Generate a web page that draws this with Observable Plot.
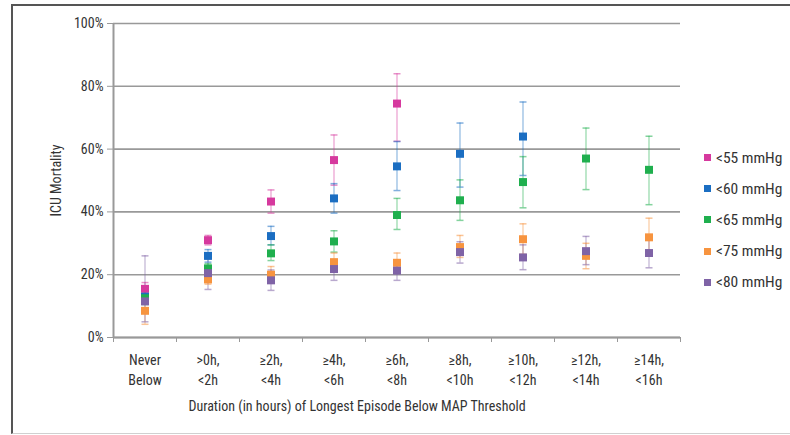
<!DOCTYPE html>
<html>
<head>
<meta charset="utf-8">
<script src="https://cdn.jsdelivr.net/npm/d3@7"></script>
<script src="https://cdn.jsdelivr.net/npm/@observablehq/plot@0.6"></script>
<style>
  html, body { margin: 0; padding: 0; background: #fff; }
  #wrap { position: relative; width: 790px; height: 435px; overflow: hidden; }
  #frame { position: absolute; left: 11px; top: 4px; width: 800px; height: 427px;
           border-top: 2px solid #555; border-left: 2px solid #555; border-bottom: 1px solid #d0d0d0; }
  #chart { position: absolute; left: 0; top: 0; }
  #legend { position: absolute; left: 704px; top: 142px; font-family: "Liberation Sans Narrow", "Roboto Condensed", "Liberation Sans", sans-serif;
            font-size: 15.5px; color: #333; }
  #legend .row { height: 31.2px; display: flex; align-items: center; white-space: nowrap; }
  #legend .sw { width: 7px; height: 7px; margin-right: 5px; }
</style>
</head>
<body>
<div id="wrap">
  <div id="frame"></div>
  <div id="chart"></div>
  <div id="legend"></div>
</div>
<script>
const categories = ["Never\nBelow", ">0h,\n<2h", "≥2h,\n<4h", "≥4h,\n<6h", "≥6h,\n<8h",
                    "≥8h,\n<10h", "≥10h,\n<12h", "≥12h,\n<14h", "≥14h,\n<16h"];
const series = ["<55 mmHg", "<60 mmHg", "<65 mmHg", "<75 mmHg", "<80 mmHg"];
const colors = ["#d6399e", "#1b6ec2", "#1faf4e", "#f7943f", "#7f63a6"];
const yTicks = [0, 20, 40, 60, 80, 100];
const xLabel = "Duration (in hours) of Longest Episode Below MAP Threshold";
const yLabel = "ICU Mortality";

const mort55 = [15.5, 31.0, 43.3, 56.5, 74.5, null, null, null, null];
const lo55   = [13.5, 29.5, 39.6, 48.5, 62.5, null, null, null, null];
const hi55   = [17.5, 32.5, 47.0, 64.5, 84.0, null, null, null, null];

const mort60 = [13.0, 26.0, 32.3, 44.3, 54.5, 58.5, 64.0, null, null];
const lo60   = [11.0, 24.0, 29.5, 39.6, 46.8, 47.9, 51.6, null, null];
const hi60   = [15.0, 28.0, 35.4, 49.0, 62.4, 68.3, 75.0, null, null];

const mort65 = [12.5, 22.0, 26.8, 30.6, 39.0, 43.7, 49.5, 57.0, 53.4];
const lo65   = [10.5, 20.5, 24.5, 27.2, 34.4, 37.3, 41.3, 47.1, 42.3];
const hi65   = [14.5, 23.5, 29.5, 34.0, 44.3, 50.2, 57.6, 66.7, 64.1];

const mort75 = [8.5, 18.5, 20.0, 24.0, 23.8, 28.8, 31.3, 26.0, 31.9];
const lo75   = [4.2, 17.0, 17.5, 21.5, 20.5, 25.5, 26.5, 21.9, 26.0];
const hi75   = [13.0, 20.0, 22.6, 26.9, 26.9, 32.5, 36.2, 30.0, 38.0];

const mort80 = [11.5, 20.5, 18.2, 21.8, 21.3, 27.2, 25.5, 27.5, 26.9];
const lo80   = [5.0, 15.3, 15.0, 18.2, 18.2, 23.7, 21.6, 23.2, 22.2];
const hi80   = [26.0, 25.0, 21.5, 24.5, 24.0, 30.5, 29.5, 32.2, 31.5];

const values = [mort55, mort60, mort65, mort75, mort80];
const lows = [lo55, lo60, lo65, lo75, lo80];
const highs = [hi55, hi60, hi65, hi75, hi80];

const rows = [];
series.forEach((s, k) => {
  categories.forEach((c, i) => {
    if (values[k][i] != null) {
      rows.push({series: s, pos: i + 0.5, value: values[k][i], lo: lows[k][i], hi: highs[k][i]});
    }
  });
});

const cap = { draw(ctx, size) { const w = Math.sqrt(size / Math.PI); ctx.moveTo(-w, 0); ctx.lineTo(w, 0); } };
const font = '"Liberation Sans Narrow", "Roboto Condensed", "Liberation Sans", sans-serif';

const chart = Plot.plot({
  width: 790,
  height: 435,
  marginLeft: 113,
  marginRight: 110,
  marginTop: 23,
  marginBottom: 98,
  style: { fontFamily: font, fontSize: "14px", color: "#333", background: "transparent", overflow: "visible" },
  x: { domain: [0, categories.length] },
  y: { domain: [0, 100] },
  color: { domain: series, range: colors },
  marks: [
    Plot.gridY(yTicks, { stroke: "#999", strokeOpacity: 1, strokeWidth: 1.6 }),
    Plot.ruleX([0], { stroke: "#999", strokeWidth: 2 }),
    Plot.ruleY([0], { stroke: "#999", strokeWidth: 2 }),
    Plot.axisY({ ticks: yTicks, tickFormat: d => d + "%", tickSize: 6, tickPadding: 4, stroke: "#999",
                 label: yLabel, labelAnchor: "center", labelArrow: "none", labelOffset: 62, fill: "#333" }),
    Plot.axisX({ ticks: d3.range(categories.length + 1), tickFormat: () => "", tickSize: 5, stroke: "#999", label: null }),
    Plot.axisX({ ticks: categories.map((c, i) => i + 0.5), tickFormat: d => categories[Math.floor(d)],
                 tickSize: 0, tickPadding: 14, label: null, lineHeight: 1.4, fill: "#333" }),
    Plot.text([xLabel], { frameAnchor: "bottom", dx: -40, dy: 73, fill: "#333", fontSize: 14 }),
    Plot.ruleX(rows, { x: "pos", y1: "lo", y2: "hi", stroke: "series", strokeOpacity: 0.45, strokeWidth: 1.3 }),
    Plot.dot(rows, { x: "pos", y: "lo", symbol: cap, r: 3.5, stroke: "series", strokeOpacity: 0.55, strokeWidth: 1.5, fill: "none" }),
    Plot.dot(rows, { x: "pos", y: "hi", symbol: cap, r: 3.5, stroke: "series", strokeOpacity: 0.55, strokeWidth: 1.5, fill: "none" }),
    Plot.dot(rows, { x: "pos", y: "value", symbol: "square", r: 4.5, fill: "series", stroke: "none" })
  ]
});
document.getElementById("chart").appendChild(chart);

const legend = document.getElementById("legend");
series.forEach((s, k) => {
  const row = document.createElement("div");
  row.className = "row";
  const sw = document.createElement("span");
  sw.className = "sw";
  sw.style.background = colors[k];
  const t = document.createElement("span");
  t.textContent = s;
  row.appendChild(sw);
  row.appendChild(t);
  legend.appendChild(row);
});
</script>
</body>
</html>
